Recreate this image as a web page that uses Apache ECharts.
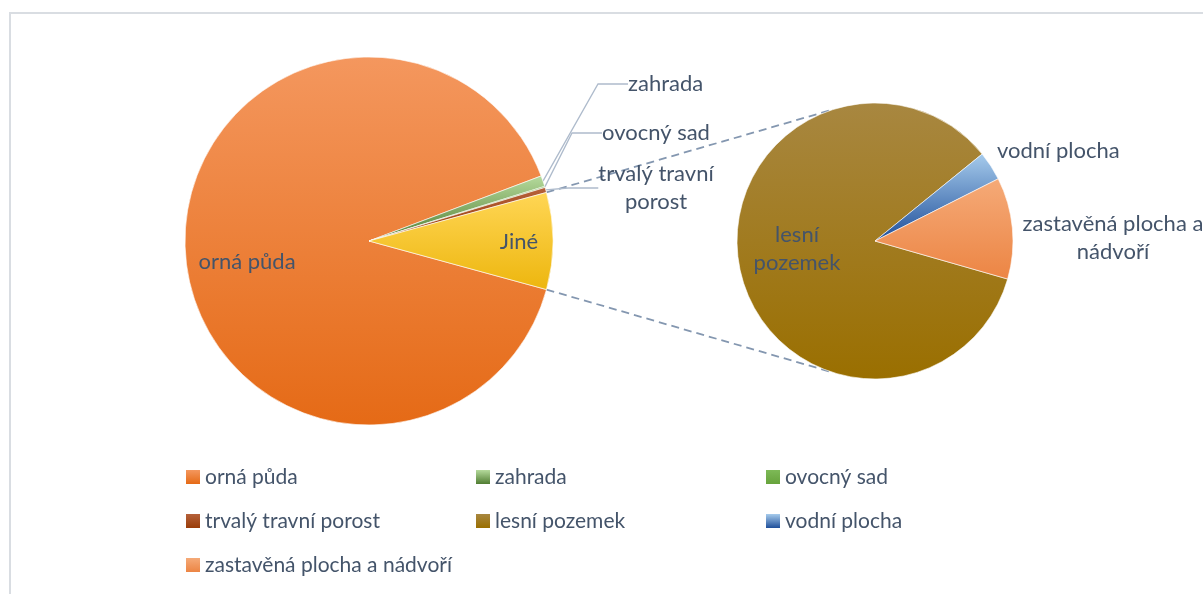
<!DOCTYPE html>
<html><head><meta charset="utf-8">
<script src="https://cdn.jsdelivr.net/npm/echarts@6/dist/echarts.min.js"></script>
<style>html,body{margin:0;padding:0;background:#fff}#chart{width:1203px;height:594px}</style>
</head><body><div id="chart"></div>
<script>
// ---- data ----
const mainCategories = ['orná půda', 'zahrada', 'ovocný sad', 'trvalý travní porost'];
const mainValues = [90.0, 0.95, 0.1, 0.45];
const otherLabel = 'Jiné';
const subCategories = ['lesní pozemek', 'vodní plocha', 'zastavěná plocha a nádvoří'];
const subValues = [7.2, 0.29, 1.01];
const legendOrder = mainCategories.concat(subCategories);

// ---- styles ----
const FONT = 'Lato';
const TXT = '#44546A';
const CL = [369, 241], RL = 184;
const CR = [875, 241], RR = 138;
function grad(top, bottom) {
  return new echarts.graphic.LinearGradient(0, 0, 0, 1, [{offset: 0, color: top}, {offset: 1, color: bottom}]);
}
const colors = {
  'orná půda': grad('#F4975E', '#E56A16'),
  'zahrada': grad('#B5DA9C', '#507D32'),
  'ovocný sad': grad('#7DB957', '#67A33C'),
  'trvalý travní porost': grad('#B5613A', '#9A3C08'),
  'Jiné': grad('#FFD655', '#EDB60E'),
  'lesní pozemek': grad('#A88740', '#9A6F00'),
  'vodní plocha': grad('#A6CBEC', '#1F4F9A'),
  'zastavěná plocha a nádvoří': grad('#F5AA78', '#EC8544')
};
const wrapped = {
  'trvalý travní porost': 'trvalý travní\nporost',
  'lesní pozemek': 'lesní\npozemek',
  'zastavěná plocha a nádvoří': 'zastavěná plocha a\nnádvoří'
};

const otherValue = subValues.reduce((a, b) => a + b, 0);
const mainTotal = mainValues.reduce((a, b) => a + b, 0) + otherValue;
const otherHalfDeg = otherValue / mainTotal * 180;

const leaderStyle = {show: true, lineStyle: {color: '#AEBBCC', width: 1.3}};
const mainData = mainCategories.map((n, i) => ({
  name: n, value: mainValues[i],
  itemStyle: {color: colors[n]},
  label: i === 0 ? {position: 'inside'} : {position: 'outside'},
  labelLine: i === 0 ? {show: false} : leaderStyle
}));
mainData.push({name: otherLabel, value: otherValue, itemStyle: {color: colors[otherLabel]},
  label: {position: 'inside'}, labelLine: {show: false}});

const subData = subCategories.map((n, i) => ({
  name: n, value: subValues[i],
  itemStyle: {color: colors[n]},
  label: {position: i === 0 ? 'inside' : 'outside'},
  labelLine: {show: false}
}));

const mainLabelPos = [
  {x: CL[0] - 122, y: CL[1] + 21, align: 'center'},
  {x: CL[0] + 259, y: 84, align: 'left'},
  {x: CL[0] + 233, y: 133, align: 'left'},
  {x: CL[0] + 287, y: 188, align: 'center'},
  {x: CL[0] + 150, y: CL[1] + 1, align: 'center'}
];
const subLabelPos = [
  {x: CR[0] - 78, y: CR[1] + 8, align: 'center'},
  {x: CR[0] + 122, y: 151, align: 'left'},
  {x: CR[0] + 238, y: 238, align: 'center'}
];

const labelBase = {
  fontFamily: FONT, fontSize: 22, color: TXT, lineHeight: 28,
  formatter: p => wrapped[p.name] || p.name
};

function pt(c, r, deg) {
  const a = deg * Math.PI / 180;
  return [c[0] + r * Math.cos(a), c[1] - r * Math.sin(a)];
}
const connAngle = 107.7;
const upA = pt(CL, RL, otherHalfDeg), upB = pt(CR, RR, connAngle);
const loA = pt(CL, RL, -otherHalfDeg), loB = pt(CR, RR, -connAngle);
const dashStyle = {stroke: '#8497B0', lineWidth: 1.8, lineDash: [8, 5]};

const chart = echarts.init(document.getElementById('chart'), null, {renderer: 'canvas'});
chart.setOption({
  animation: false,
  backgroundColor: '#fff',
  legend: {
    data: legendOrder,
    left: 186, top: 455, width: 900,
    padding: 0,
    orient: 'horizontal',
    itemGap: 0, itemWidth: 14, itemHeight: 14,
    icon: 'rect',
    itemStyle: {borderWidth: 0},
    selectedMode: false,
    textStyle: {fontFamily: FONT, fontSize: 21, color: TXT, width: 271, lineHeight: 44}
  },
  graphic: [
    {type: 'rect', z: -10, silent: true, shape: {x: 10, y: 13, width: 1400, height: 800},
      style: {fill: 'none', stroke: '#D9DDE2', lineWidth: 2}},
    {type: 'line', z: -5, silent: true, shape: {x1: upA[0], y1: upA[1], x2: upB[0], y2: upB[1]}, style: dashStyle},
    {type: 'line', z: -5, silent: true, shape: {x1: loA[0], y1: loA[1], x2: loB[0], y2: loB[1]}, style: dashStyle}
  ],
  series: [
    {
      type: 'pie', center: CL, radius: RL, startAngle: -otherHalfDeg, clockwise: true,
      avoidLabelOverlap: false, emphasis: {disabled: true},
      itemStyle: {borderColor: '#fff', borderWidth: 0.6},
      label: labelBase,
      labelLayout: p => Object.assign({verticalAlign: 'middle'}, mainLabelPos[p.dataIndex]),
      data: mainData
    },
    {
      type: 'pie', center: CR, radius: RR, startAngle: -16, clockwise: true,
      avoidLabelOverlap: false, emphasis: {disabled: true},
      itemStyle: {borderColor: '#fff', borderWidth: 0.6},
      label: labelBase,
      labelLayout: p => Object.assign({verticalAlign: 'middle'}, subLabelPos[p.dataIndex]),
      data: subData
    }
  ]
});
</script></body></html>
